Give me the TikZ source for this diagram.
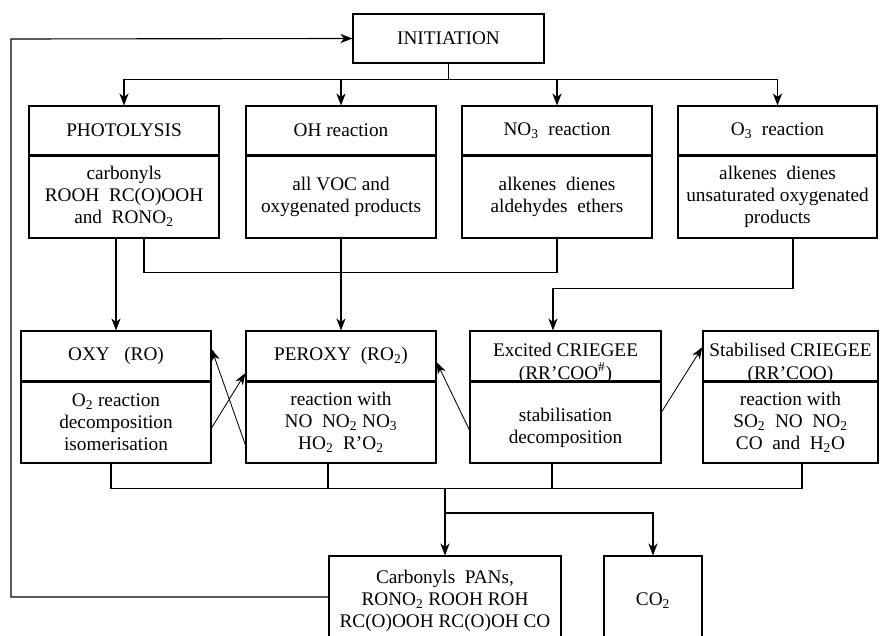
\documentclass[tikz,border=0pt]{standalone}
\usepackage{fontspec}
\setmainfont{Liberation Serif}
\usetikzlibrary{calc,arrows.meta}
\tikzset{
	box/.style={draw, line width=0.8pt, inner sep=0pt, align=center},
	wd/.style={minimum width=#1*0.025cm},
	ht/.style={minimum height=#1*0.025cm},
	divider/.style={line width=1.6pt},
	link/.style={line width=0.8pt},
	arr/.style={link, -{Stealth[length=8.5pt,width=6.5pt,inset=2.5pt]}},
	thinarr/.style={line width=0.6pt, -{Stealth[length=8.5pt,width=6pt,inset=2.5pt]}}
}
\begin{document}
\begin{tikzpicture}[x=0.025cm, y=-0.025cm, font=\fontsize{13.7}{15.6}\selectfont]
	\clip (0,0) rectangle (880,636);

	%top box
	\node[box, wd=191, ht=49] (init) at (448.5,38.5) {INITIATION};

	%first row: headers
	\node[box, wd=190, ht=49] (phot) at (124,130.5) {PHOTOLYSIS};
	\node[box, wd=190, ht=49] (oh)   at (341,130.5) {OH reaction};
	\node[box, wd=190, ht=49] (no3)  at (557,130.5) {NO\textsubscript{3}~~reaction};
	\node[box, wd=199, ht=49] (o3)   at (777.5,130.5) {O\textsubscript{3}~~reaction};
	%first row: bodies
	\node[box, wd=190, ht=83] (photb) at (124,196.5) {carbonyls\\ROOH~~RC(O)OOH\\and~~RONO\textsubscript{2}};
	\node[box, wd=190, ht=83] (ohb)   at (341,196.5) {all VOC and\\oxygenated products};
	\node[box, wd=190, ht=83] (no3b)  at (557,196.5) {alkenes~~dienes\\aldehydes~~ethers};
	\node[box, wd=199, ht=83] (o3b)   at (777.5,196.5) {alkenes~~dienes\\unsaturated oxygenated\\products};

	%second row: headers
	\node[box, wd=190, ht=50] (oxy)   at (116,356) {OXY~~~(RO)};
	\node[box, wd=190, ht=50] (perox) at (341,356) {PEROXY~~(RO\textsubscript{2})};
	\node[box, wd=191, ht=50] (exc)   at (565.5,356) {};
	\node[box, wd=175, ht=50] (stab)  at (790.5,356) {};
	%second row: bodies
	\node[box, wd=190, ht=82] (oxyb)   at (116,422) {O\textsubscript{2} reaction\\decomposition\\isomerisation};
	\node[box, wd=190, ht=82] (peroxb) at (341,422) {reaction with\\NO~~NO\textsubscript{2} NO\textsubscript{3}\\HO\textsubscript{2}~~R'O\textsubscript{2}};
	\node[box, wd=191, ht=82] (excb)   at (565.5,422) {};
	\node[box, wd=175, ht=82] (stabb)  at (790.5,422) {reaction with\\SO\textsubscript{2}~~NO~~NO\textsubscript{2}\\CO~~and~~H\textsubscript{2}O};
	\node[align=center] (excbt) at (565.5,428) {stabilisation\\decomposition};

	%dividers
	\foreach \n in {phot,oh,no3,o3,oxy,perox,exc,stab}
		\draw[divider] (\n.south west) -- (\n.south east);

	%criegee captions (run over the divider)
	\node[align=center, font=\fontsize{13.7}{16.3}\selectfont] (exct) at (565.5,363) {Excited CRIEGEE\\(RR'COO\textsuperscript{\#})};
	\node[align=center, font=\fontsize{13.7}{16.3}\selectfont] (stabt) at (790.5,363) {Stabilised CRIEGEE\\(RR'COO)};

	%bottom boxes
	\node[box, wd=232, ht=90] (carb) at (445,601) {Carbonyls~~PANs,\\RONO\textsubscript{2} ROOH ROH\\RC(O)OOH RC(O)OH CO};
	\node[box, wd=98, ht=90] (co2) at (653,601) {CO\textsubscript{2}};

	%initiation to the four sources
	\coordinate (ibus) at ($(init.south)+(0,16)$);
	\draw[link] (init.south) -- (ibus);
	\foreach \n in {phot,oh,no3,o3}
		\draw[arr] (ibus) -| (\n.north);

	%sources to radicals
	\draw[arr] (photb.south -| oxy.north) -- (oxy.north);
	\draw[link] ($(photb.south)+(20,0)$) -- ++(0,34) -| (no3b.south);
	\draw[arr] (ohb.south) -- (perox.north);
	\draw[arr] ($(o3b.south)+(15.5,0)$) -- ++(0,50) -| ($(exc.north)+(-12.5,0)$);

	%cross arrows
	\draw[thinarr] ($(oxyb.east)+(0,6)$) -- ($(perox.west)+(0,17)$);
	\draw[thinarr] ($(peroxb.west)+(0,23)$) -- ($(oxy.east)+(0,-7)$);
	\draw[thinarr] ($(excb.west)+(0,8)$) -- ($(perox.east)+(0,6)$);
	\draw[thinarr] ($(excb.east)+(0,-10)$) -- ($(stab.west)+(0,-9)$);

	%collect to products
	\draw[link] ($(oxyb.south)+(-5,0)$) |- ($(stabb.south)+(11.5,25)$) -- ($(stabb.south)+(11.5,0)$);
	\draw[link] ($(peroxb.south)+(-13,0)$) -- ++(0,25);
	\draw[link] ($(excb.south)+(-13.5,0)$) -- ++(0,25);
	\coordinate (obus) at (445,488);
	\coordinate (split) at (445,513);
	\draw[arr] (obus) -- (carb.north);
	\draw[arr] (split) -| (co2.north);

	%feedback to initiation
	\coordinate (fb) at (11,39);
	\draw[arr] ($(carb.west)+(0,-4)$) -| (fb) -- (init.west);
\end{tikzpicture}
\end{document}
